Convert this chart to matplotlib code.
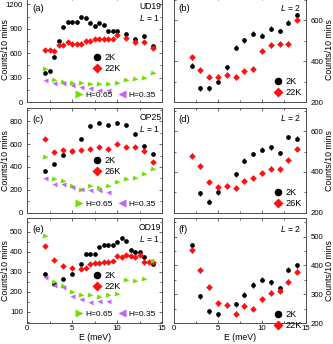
import matplotlib
matplotlib.use('Agg')
import matplotlib.pyplot as plt
from matplotlib.ticker import MultipleLocator

plt.rcParams['font.family'] = ['Liberation Sans', 'DejaVu Sans']
plt.rcParams['font.size'] = 6
plt.rcParams['mathtext.fontset'] = 'custom'
plt.rcParams['mathtext.it'] = 'Liberation Sans:italic'

# ---- data ----
# (a) UD19, L = 1
a_E_2K = [2, 2.5, 3, 3.5, 4, 4.5, 5, 5.5, 6, 6.5, 7, 7.5, 8, 8.5, 9, 9.5, 10, 11, 12, 13, 14]
a_2K = [356, 381, 553, 745, 922, 983, 983, 983, 1044, 1036, 971, 934, 971, 950, 868, 872, 876, 840, 778, 807, 684]
a_E_hi = [2, 2.5, 3, 3.5, 4, 4.5, 5, 5.5, 6, 6.5, 7, 7.5, 8, 8.5, 9, 9.5, 10, 11, 12, 13, 14]
a_hi = [643, 635, 627, 696, 696, 737, 717, 717, 717, 750, 750, 778, 770, 770, 770, 770, 827, 790, 737, 737, 664]
a_E_H65 = [2, 3, 4, 5, 6, 7, 8, 9, 10, 11, 12, 13, 14]
a_H65 = [410, 266, 250, 230, 230, 225, 217, 222, 236, 266, 287, 297, 352]
a_E_H35 = [2, 3, 4, 5, 6, 7, 8, 9]
a_H35 = [274, 233, 236, 205, 184, 172, 152, 150]

# (c) OP25, L = 1
c_E = [2, 3, 4, 5, 6, 7, 8, 9, 10, 11, 12, 13, 14]
c_2K = [362, 426, 503, 538, 647, 759, 782, 767, 782, 764, 685, 582, 515]
c_hi = [647, 532, 547, 538, 547, 559, 573, 553, 597, 573, 573, 538, 444]
c_H65 = [491, 294, 273, 235, 194, 235, 212, 235, 268, 294, 303, 338, 385]
c_E_H35 = [2, 3, 4, 5, 6, 7, 8, 9]
c_H35 = [303, 250, 248, 226, 206, 195, 197, 182]

# (e) OD19, L = 1
e_E_2K = [2, 3, 4, 5, 6, 6.5, 7, 7.5, 8, 8.5, 9, 9.5, 10, 10.5, 11, 11.5, 12, 12.5, 13, 14]
e_2K = [290, 240, 265, 287, 340, 387, 387, 387, 423, 432, 433, 433, 450, 470, 453, 407, 400, 400, 375, 340]
e_E_hi = [2, 3, 4, 5, 6, 6.5, 7, 7.5, 8, 8.5, 9, 9.5, 10, 10.5, 11, 11.5, 12, 12.5, 13, 13.5, 14]
e_hi = [428, 358, 328, 317, 315, 317, 337, 342, 345, 348, 350, 353, 378, 375, 383, 378, 375, 383, 348, 348, 350]
e_E_H65 = [2, 3, 4, 5, 6, 7, 8, 9, 10, 11, 12, 13, 14]
e_H65 = [478, 250, 227, 198, 182, 183, 173, 182, 190, 260, 253, 265, 353]
e_E_H35 = [2, 3, 4, 5, 6, 7, 8, 9]
e_H35 = [273, 232, 225, 178, 167, 150, 157, 153]

# (b) UD19, L = 2
b_E = [2, 3, 4, 5, 6, 7, 8, 9, 10, 11, 12, 13, 14]
b_2K = [378, 267, 266, 300, 370, 465, 501, 534, 523, 559, 547, 587, 625]
b_hi = [419, 356, 323, 323, 333, 320, 350, 361, 449, 477, 485, 485, 603]

# (d) OP25, L = 2
d_E_2K = [3, 4, 5, 7, 8, 9, 10, 11, 12, 13, 14]
d_2K = [295, 254, 299, 389, 455, 488, 509, 521, 493, 572, 564]
d_E_hi = [2, 3, 4, 5, 6, 7, 8, 9, 10, 11, 12, 13, 14]
d_hi = [480, 427, 350, 325, 333, 320, 353, 370, 394, 416, 414, 457, 513]

# (f) OD19, L = 2
f_E_2K = [2, 3, 4, 5, 7, 8, 9, 10, 11, 12, 13, 14]
f_2K = [470, 293, 240, 230, 265, 298, 332, 350, 342, 320, 385, 400]
f_E_hi = [2, 3, 4, 5, 6, 7, 8, 9, 10, 11, 12, 13, 14]
f_hi = [453, 383, 325, 268, 262, 233, 260, 250, 282, 305, 312, 343, 377]

err_bd = 12
err_f = 9

GREEN = '#6ee000'
VIOLET = '#c464f4'
RED = '#ff1010'
FRAME = '0.3'

W, H = 333, 344
fig = plt.figure(figsize=(W / 100, H / 100), dpi=100)


def rect(x0, x1, top, bottom):
    return [x0 / W, 1 - bottom / H, (x1 - x0) / W, (bottom - top) / H]


def style(ax, ymaj, ylim, right=False, xlabels=False):
    ax.set_xlim(0, 15)
    ax.set_ylim(*ylim)
    ax.xaxis.set_major_locator(MultipleLocator(5))
    ax.xaxis.set_minor_locator(MultipleLocator(2.5))
    ax.yaxis.set_major_locator(MultipleLocator(ymaj))
    ax.yaxis.set_minor_locator(MultipleLocator(ymaj / 2))
    ax.tick_params(which='both', direction='in', top=True, right=True, left=True,
                   color=FRAME, width=0.6, labelsize=5.6)
    ax.tick_params(axis='y', pad=3.2)
    ax.tick_params(axis='x', pad=1.8)
    ax.tick_params(which='major', length=2.5)
    ax.tick_params(which='minor', length=1.5)
    for s in ax.spines.values():
        s.set_color(FRAME)
        s.set_linewidth(0.7)
    ax.set_ylabel('Counts/10 mins', fontsize=6.3)
    if right:
        ax.tick_params(labelleft=False, labelright=True)
        ax.yaxis.set_label_position('right')
        ax.yaxis.set_label_coords(1.145, 0.5)
    else:
        ax.yaxis.set_label_coords(-0.125, 0.5)
    if xlabels:
        ax.set_xlabel('E (meV)', fontsize=6.3, labelpad=0.5)
    else:
        ax.tick_params(labelbottom=False)


def left_panel(r, tag, name, ylim, ymaj, hiT, d, leg_y, hleg_y, xlabels=False):
    E2, y2, Eh, yh, Eg, yg, Ev, yv = d
    ax = fig.add_axes(r)
    h1, = ax.plot(E2, y2, 'o', color='k', ms=3.4, mec='none')
    h2, = ax.plot(Eh, yh, 'D', color=RED, ms=3.3, mec='none')
    h3, = ax.plot(Eg, yg, '>', color=GREEN, ms=3.6, mec='none')
    h4, = ax.plot(Ev, yv, '<', color=VIOLET, ms=3.6, mec='none')
    style(ax, ymaj, ylim, xlabels=xlabels)
    ax.text(0.035, 0.89, tag, transform=ax.transAxes, fontsize=6.8, va='center')
    ax.text(0.995, 0.91, name, transform=ax.transAxes, fontsize=6.2, ha='right', va='center')
    ax.text(0.985, 0.80, '$L$ = 1', transform=ax.transAxes, fontsize=6.2, ha='right', va='center')
    l1 = ax.legend([h1, h2], ['2K', hiT], loc='center left', bbox_to_anchor=(0.48, leg_y),
                   frameon=False, handlelength=1.0, handletextpad=0.35, labelspacing=0.2,
                   markerscale=1.6, borderpad=0, borderaxespad=0, fontsize=6.6)
    ax.add_artist(l1)
    ax.legend([h3, h4], ['H=0.65', 'H=0.35'], ncol=2, loc='center left',
              bbox_to_anchor=(0.36, hleg_y), frameon=False, handlelength=0.8,
              handletextpad=0.3, columnspacing=0.8, markerscale=1.5, borderpad=0,
              borderaxespad=0, fontsize=6.0)
    return ax


def right_panel(r, tag, ylim, ymaj, hiT, d, err, leg_y, xlabels=False):
    E2, y2, Eh, yh = d
    ax = fig.add_axes(r)
    h1 = ax.errorbar(E2, y2, yerr=err, fmt='o', color='k', ms=3.4, mec='none',
                     elinewidth=0.8, capsize=0)
    h2 = ax.errorbar(Eh, yh, yerr=err, fmt='D', color=RED, ms=3.4, mec='none',
                     elinewidth=0.8, capsize=0)
    style(ax, ymaj, ylim, right=True, xlabels=xlabels)
    ax.text(0.03, 0.89, tag, transform=ax.transAxes, fontsize=6.8, va='center')
    ax.text(0.96, 0.90, '$L$ = 2', transform=ax.transAxes, fontsize=6.2, ha='right', va='center')
    ax.legend([h1[0], h2[0]], ['2K', hiT], loc='center left', bbox_to_anchor=(0.75, leg_y),
              frameon=False, handlelength=1.0, handletextpad=0.35, labelspacing=0.2,
              markerscale=1.6, borderpad=0, borderaxespad=0, fontsize=6.6)
    return ax


LX0, LX1 = 27.3, 162
RX0, RX1 = 174, 306
rows = [(-3, 102), (108, 212.5), (218, 323)]

left_panel(rect(LX0, LX1, *rows[0]), '(a)', 'UD19', (0, 1290), 300, '22K',
           (a_E_2K, a_2K, a_E_hi, a_hi, a_E_H65, a_H65, a_E_H35, a_H35), 0.37, 0.065)
left_panel(rect(LX0, LX1, *rows[1]), '(c)', 'OP25', (0, 917), 200, '26K',
           (c_E, c_2K, c_E, c_hi, c_E, c_H65, c_E_H35, c_H35), 0.445, 0.084)
left_panel(rect(LX0, LX1, *rows[2]), '(e)', 'OD19', (45, 568), 100, '22K',
           (e_E_2K, e_2K, e_E_hi, e_hi, e_E_H65, e_H65, e_E_H35, e_H35), 0.40, 0.086,
           xlabels=True)

right_panel(rect(RX0, RX1, *rows[0]), '(b)', (200, 713), 200, '22K',
            (b_E, b_2K, b_E, b_hi), err_bd, 0.14)
right_panel(rect(RX0, RX1, *rows[1]), '(d)', (200, 715), 200, '26K',
            (d_E_2K, d_2K, d_E_hi, d_hi), err_bd, 0.136)
right_panel(rect(RX0, RX1, *rows[2]), '(f)', (200, 565), 100, '22K',
            (f_E_2K, f_2K, f_E_hi, f_hi), err_f, 0.03, xlabels=True)

fig.savefig('out.png', dpi=100)
